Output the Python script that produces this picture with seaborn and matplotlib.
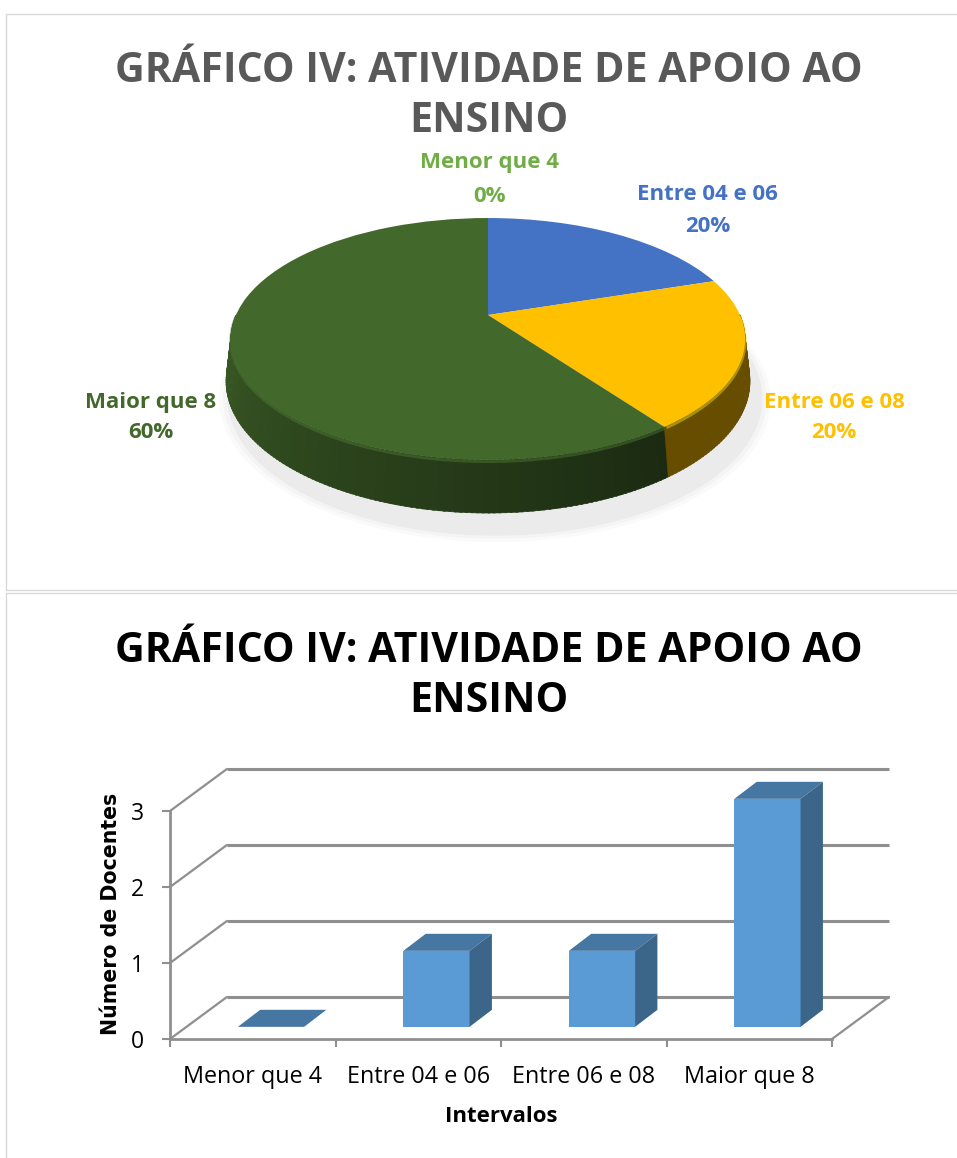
import numpy as np
import pandas as pd
import matplotlib
matplotlib.use("Agg")
import matplotlib.pyplot as plt
import seaborn as sns
from matplotlib.patches import Polygon, Rectangle
from matplotlib.transforms import Transform

# ---------------- data ----------------
categories = ["Menor que 4", "Entre 04 e 06", "Entre 06 e 08", "Maior que 8"]
docentes = [0, 1, 1, 3]
pie_colors = ["#70AD47", "#4472C4", "#FFC000", "#43682B"]
label_colors = ["#70AD47", "#4472C4", "#FFC000", "#43682B"]
title_lines = ["GRÁFICO IV: ATIVIDADE DE APOIO AO", "ENSINO"]
y_ticks = [0, 1, 2, 3]
x_title = "Intervalos"
y_title = "Número de Docentes"

sns.set_theme(style="white")
plt.rcParams["font.family"] = ["Open Sans", "DejaVu Sans"]

W, H = 957, 1158
fig = plt.figure(figsize=(W / 100, H / 100), dpi=100)
fig.patch.set_facecolor("white")


def fxy(px, py):
    return px / W, 1 - py / H


def add_axes_px(left, top, right, bottom):
    return fig.add_axes([left / W, 1 - bottom / H, (right - left) / W, (bottom - top) / H])


# panel frames
for (x0, y0, x1, y1) in [(5.5, 14.5, 990, 589.5), (5.5, 592.5, 990, 1190)]:
    fig.patches.append(Rectangle(fxy(x0, y1), (x1 - x0) / W, (y1 - y0) / H,
                                 transform=fig.transFigure, fill=False,
                                 edgecolor="#d9d9d9", linewidth=1.0))

# titles
for (b1, b2), col in [((81.7, 131.7), "#595959"), ((661.7, 711.7), "black")]:
    fig.text(*fxy(489, b1), title_lines[0], ha="center", va="baseline",
             fontsize=29.6, fontweight="bold", color=col)
    fig.text(*fxy(489, b2), title_lines[1], ha="center", va="baseline",
             fontsize=29.6, fontweight="bold", color=col)

# ---------------- 3D pie ----------------
sin_e, cos_e, D = 0.461, 0.887, 4.48
depth = 0.175


def project(X, P, h=0.0):
    v = P * sin_e - h * cos_e
    d = P * cos_e - h * sin_e
    w = 1 + d / D
    return X / w, v / w


class TiltTransform(Transform):
    input_dims = 2
    output_dims = 2
    is_separable = False
    has_inverse = False

    def __init__(self, h=0.0):
        super().__init__()
        self.h = h

    def transform_non_affine(self, values):
        arr = np.asarray(values, dtype=float)
        shp = arr.shape
        arr = arr.reshape(-1, 2)
        x, y = project(arr[:, 0], arr[:, 1], self.h)
        return np.column_stack([x, y]).reshape(shp)


U = 252.0
cx, cy = 488.0, 315.0
axp = add_axes_px(cx - 1.4 * U, cy - 1.0 * U, cx + 1.4 * U, cy + 1.0 * U)

wedges, _ = axp.pie(docentes, colors=pie_colors, startangle=90, counterclock=False,
                    wedgeprops=dict(linewidth=0, edgecolor="none"))
for wdg in wedges:
    wdg.set_transform(TiltTransform() + axp.transData)
    wdg.set_zorder(3)

total = float(sum(docentes))
cum = np.concatenate([[0], np.cumsum(docentes)]) / total


def slice_of(phi):
    theta = (90 - phi) % 360
    for i in range(len(docentes)):
        if cum[i] * 360 <= theta < cum[i + 1] * 360:
            return i
    return len(docentes) - 1


def shade(hexcol, f):
    rgb = np.array(matplotlib.colors.to_rgb(hexcol))
    return tuple(np.clip(rgb * f, 0, 1))


# soft shadow (below and slightly right)
phis = np.linspace(0, 2 * np.pi, 200)
for sc, al in [(1.035, 0.018), (1.02, 0.025), (1.005, 0.035)]:
    sx, sy = project(sc * np.cos(phis) + 0.025, sc * np.sin(phis) - 0.06, depth + 0.03)
    axp.add_patch(Polygon(np.column_stack([sx, sy]), closed=True, facecolor="black",
                          edgecolor="none", alpha=al, zorder=0))

# side wall in strips
step = 1.0
for phi in np.arange(180, 360, step):
    i = slice_of(phi + step / 2)
    f = max(0.40, 0.88 - 0.48 * (phi - 180) / 126)
    a0, a1 = np.radians(phi), np.radians(phi + step + 0.3)
    ts = np.linspace(a0, a1, 3)
    tx, ty = project(np.cos(ts), np.sin(ts), 0.0)
    bx, by = project(np.cos(ts[::-1]), np.sin(ts[::-1]), depth)
    poly = np.column_stack([np.concatenate([tx, bx]), np.concatenate([ty, by])])
    col = shade(pie_colors[i], f)
    axp.add_patch(Polygon(poly, closed=True, facecolor=col, edgecolor=col,
                          linewidth=0.4, zorder=1))

# subtle rim highlight on visible front edge
ang = np.arange(180, 360.5, 0.5)
for i in range(len(docentes)):
    if docentes[i] == 0:
        continue
    mask = np.array([slice_of(a) == i for a in ang])
    if mask.sum() < 2:
        continue
    a = np.radians(ang[mask])
    hx, hy = project(np.cos(a), np.sin(a), 0.006)
    axp.plot(hx, hy, color=shade(pie_colors[i], 1.2), lw=2.0, alpha=0.45, zorder=2,
             solid_capstyle="butt")

axp.set_xlim(-1.4, 1.4)
axp.set_ylim(-1.0, 1.0)
axp.set_aspect("auto")
axp.axis("off")

# pie labels
label_pos = [(490, 168.3, 201.7), (707.5, 200, 231.7), (834, 408, 438), (151, 408, 438)]
for i, cat in enumerate(categories):
    x, b1, b2 = label_pos[i]
    pct = 100 * docentes[i] / total
    fig.text(*fxy(x, b1), cat, ha="center", va="baseline", fontsize=16,
             fontweight="bold", color=label_colors[i])
    fig.text(*fxy(x, b2), f"{pct:.0f}%", ha="center", va="baseline", fontsize=16,
             fontweight="bold", color=label_colors[i])

# ---------------- 3D bar chart ----------------
Ux, Uy = 165.5, 76.0
bl, bt, br, bb = 170, 760, 890, 1039
axb = add_axes_px(bl, bt, br, bb)
df = pd.DataFrame({"Intervalos": categories, "Docentes": docentes})
sns.barplot(data=df, x="Intervalos", y="Docentes", color="#5B9BD5", saturation=1,
            width=0.4, linewidth=0, errorbar=None, ax=axb, zorder=3)

n = len(categories)
xmin, xmax = -0.5, n - 0.5
dx, dy = 0.344, 0.553
grid_color = "#8f8f8f"

ox, oy = 0.11, 0.16
bdx, bdy = 0.135, 0.224
top_color, side_color = "#4676A2", "#3B6589"
for p in list(axb.patches):
    x0 = p.get_x() + ox
    wdt = p.get_width()
    hgt = p.get_height()
    p.set_x(x0)
    p.set_y(oy)
    top = oy + hgt
    axb.add_patch(Polygon([[x0, top], [x0 + wdt, top], [x0 + wdt + bdx, top + bdy],
                           [x0 + bdx, top + bdy]], closed=True, facecolor=top_color,
                          edgecolor="none", zorder=3))
    if hgt > 0:
        axb.add_patch(Polygon([[x0 + wdt, oy], [x0 + wdt, top],
                               [x0 + wdt + bdx, top + bdy], [x0 + wdt + bdx, oy + bdy]],
                              closed=True, facecolor=side_color, edgecolor="none", zorder=3))

for v in y_ticks:
    axb.plot([xmin + dx, xmax + dx], [v + dy, v + dy], color=grid_color, lw=2.2,
             zorder=1, clip_on=False, solid_capstyle="butt")
    axb.plot([xmin, xmin + dx], [v, v + dy], color=grid_color, lw=1.6, zorder=1,
             clip_on=False)
axb.plot([xmax, xmax + dx], [0, dy], color=grid_color, lw=1.6, zorder=1, clip_on=False)

axb.set_xlim(xmin, xmin + (br - bl) / Ux)
axb.set_ylim(0, (bb - bt) / Uy)
for s in ["top", "right"]:
    axb.spines[s].set_visible(False)
for s in ["left", "bottom"]:
    axb.spines[s].set_color(grid_color)
    axb.spines[s].set_linewidth(2)
axb.spines["left"].set_bounds(min(y_ticks), max(y_ticks))
axb.spines["bottom"].set_bounds(xmin, xmax)

axb.set_yticks(y_ticks)
axb.set_yticklabels([str(t) for t in y_ticks])
axb.set_xticks(np.arange(n + 1) - 0.5)
axb.set_xticklabels([""] * (n + 1))
axb.set_xticks(np.arange(n), minor=True)
axb.set_xticklabels(categories, minor=True)
axb.tick_params(axis="y", which="major", left=True, length=5.8, width=1.5,
                color=grid_color, direction="out", pad=13, labelsize=16.5,
                labelcolor="black")
axb.tick_params(axis="x", which="major", bottom=True, length=5.8, width=1.5,
                color=grid_color, direction="out")
axb.tick_params(axis="x", which="minor", bottom=True, length=0, pad=19,
                labelsize=16.8, labelcolor="black")
axb.set_xlabel("")
axb.set_ylabel("")
axb.set_facecolor("none")

fig.text(*fxy(501.4, 1121.7), x_title, ha="center", va="baseline", fontsize=16,
         fontweight="bold", color="black")
fig.text(*fxy(116.7, 913.5), y_title, rotation=90, rotation_mode="anchor",
         ha="center", va="baseline", family=["DejaVu Sans"], fontweight="bold",
         fontsize=14.8, color="black")

fig.savefig("out.png", dpi=100, facecolor="white")
